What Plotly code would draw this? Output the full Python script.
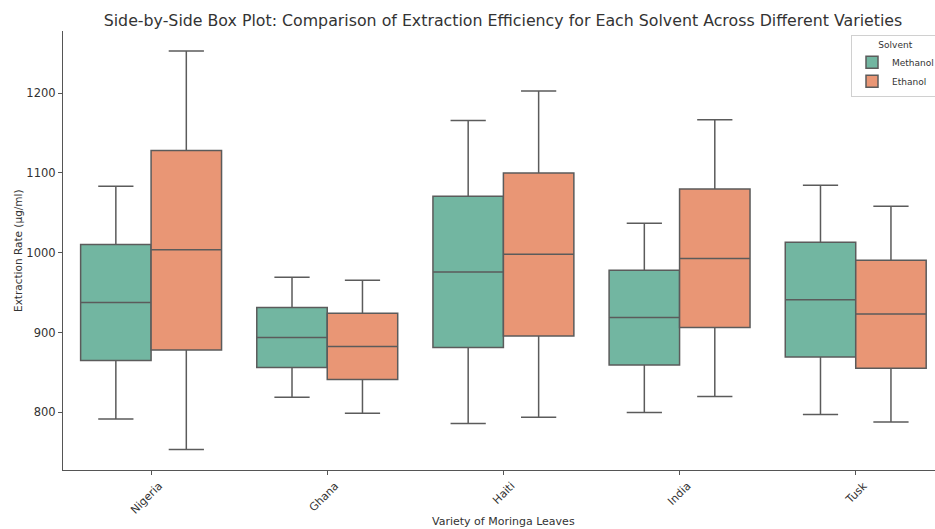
import plotly.graph_objects as go

varieties = ["Nigeria", "Ghana", "Haiti", "India", "Tusk"]

meth_low = [791.6, 818.8, 785.8, 799.6, 797.1]
meth_q1 = [864.8, 856.0, 881.1, 859.3, 869.4]
meth_med = [937.5, 893.7, 975.9, 918.7, 940.9]
meth_q3 = [1010.3, 931.3, 1070.8, 978.0, 1013.2]
meth_high = [1083.4, 969.3, 1165.8, 1037.0, 1084.6]

eth_low = [753.2, 798.7, 793.7, 819.7, 787.8]
eth_q1 = [878.2, 841.0, 895.7, 906.2, 855.2]
eth_med = [1003.6, 882.4, 998.1, 992.7, 923.3]
eth_q3 = [1128.2, 924.1, 1100.1, 1080.0, 990.6]
eth_high = [1253.0, 965.5, 1202.9, 1166.6, 1058.3]

y_ticks = [800, 900, 1000, 1100, 1200]

FONT = "DejaVu Sans"
TXT = "#333333"
EDGE = "#5b5b5b"

W, H = 935, 529
L, T, B = 63, 31, 59
PW, PH = W - L, H - T - B

fig = go.Figure()
fig.add_trace(go.Box(
    name="Methanol", x=varieties,
    lowerfence=meth_low, q1=meth_q1, median=meth_med, q3=meth_q3, upperfence=meth_high,
    fillcolor="#72b6a1", line=dict(color=EDGE, width=1.5),
    whiskerwidth=0.5, boxpoints=False,
))
fig.add_trace(go.Box(
    name="Ethanol", x=varieties,
    lowerfence=eth_low, q1=eth_q1, median=eth_med, q3=eth_q3, upperfence=eth_high,
    fillcolor="#e99675", line=dict(color=EDGE, width=1.5),
    whiskerwidth=0.5, boxpoints=False,
))

fig.update_layout(
    width=W, height=H,
    margin=dict(l=L, r=0, t=T, b=B, autoexpand=False),
    paper_bgcolor="white", plot_bgcolor="white",
    boxmode="group", boxgap=0.2, boxgroupgap=0.0,
    font=dict(family=FONT, color=TXT, size=11),
    title=dict(
        text="Side-by-Side Box Plot: Comparison of Extraction Efficiency for Each Solvent Across Different Varieties",
        x=503 / W, xanchor="center", y=1 - 20 / H, yanchor="middle",
        font=dict(size=15.8, color=TXT, family=FONT),
    ),
    legend=dict(
        title=dict(text="Solvent", side="top center", font=dict(size=9, color=TXT)),
        font=dict(size=9, color=TXT),
        x=(851 - L) / PW, xanchor="left", y=1 - (35 - T) / PH, yanchor="top",
        bgcolor="white", bordercolor="#d0d0d0", borderwidth=1,
        tracegroupgap=0, itemwidth=30,
    ),
    xaxis=dict(
        type="category", categoryorder="array", categoryarray=varieties,
        range=[-0.5, 4.45], automargin=False,
        showline=True, linecolor="#555555", linewidth=1.2,
        ticks="outside", ticklen=4, tickcolor="#555555",
        tickangle=-45, tickfont=dict(size=11, color=TXT), ticklabelshift=8,
        showgrid=False, zeroline=False,
    ),
    yaxis=dict(
        range=[727.6, 1278], automargin=False,
        tickvals=y_ticks, ticktext=[str(v) for v in y_ticks],
        showline=True, linecolor="#555555", linewidth=1.2,
        ticks="outside", ticklen=4, tickcolor="#555555",
        tickfont=dict(size=11.5, color=TXT),
        showgrid=False, zeroline=False,
    ),
    annotations=[
        dict(text="Variety of Moringa Leaves", xref="paper", yref="paper",
             x=(503 - L) / PW, y=-(521 - (T + PH)) / PH, xanchor="center", yanchor="middle",
             showarrow=False, font=dict(size=11, color=TXT)),
        dict(text="Extraction Rate (µg/ml)", xref="paper", yref="paper",
             x=-(L - 18) / PW, y=(T + PH - 251) / PH, xanchor="center", yanchor="middle",
             textangle=-90, showarrow=False, font=dict(size=10.5, color=TXT)),
    ],
)

fig.write_html(
    "out.html",
    config={"displayModeBar": False},
    post_script="document.body.style.margin='0';document.body.style.overflow='hidden';",
)
